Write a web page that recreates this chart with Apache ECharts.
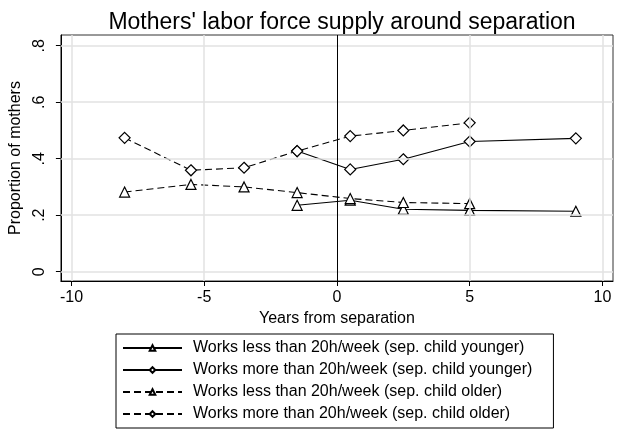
<!DOCTYPE html>
<html>
<head>
<meta charset="utf-8">
<script src="https://cdn.jsdelivr.net/npm/echarts@6/dist/echarts.min.js"></script>
<style>html,body{margin:0;padding:0;background:#fff;}#c{width:625px;height:434px;}</style>
</head>
<body>
<div id="c"></div>
<script>
var xOlder = [-8, -5.5, -3.5, -1.5, 0.5, 2.5, 5];
var xYounger = [-1.5, 0.5, 2.5, 5, 9];
var lessYounger = [0.235, 0.253, 0.221, 0.217, 0.214];
var moreYounger = [0.427, 0.362, 0.398, 0.461, 0.472];
var lessOlder = [0.282, 0.309, 0.300, 0.280, 0.259, 0.245, 0.241];
var moreOlder = [0.474, 0.359, 0.368, 0.427, 0.480, 0.500, 0.527];
var xTicks = [-10, -5, 0, 5, 10];
var yTicks = [0, 0.2, 0.4, 0.6, 0.8];
var yTickLabels = ['0', '.2', '.4', '.6', '.8'];
var seriesNames = [
  'Works less than 20h/week (sep. child younger)',
  'Works more than 20h/week (sep. child younger)',
  'Works less than 20h/week (sep. child older)',
  'Works more than 20h/week (sep. child older)'
];

function pairs(xs, ys) { return xs.map(function (x, i) { return [x, ys[i]]; }); }

var FONT = 'Liberation Sans, Arial, sans-serif';
var chart = echarts.init(document.getElementById('c'), null, {renderer: 'canvas'});

function mk(name, xs, ys, sym, dashed, size) {
  return {
    name: name, type: 'line', data: pairs(xs, ys),
    symbol: sym, symbolSize: size, showSymbol: true,
    lineStyle: {color: '#000', width: 1.1, type: dashed ? [7, 4] : 'solid'},
    itemStyle: {color: '#fff', borderColor: '#000', borderWidth: 1.2},
    emphasis: {disabled: true}, z: 3
  };
}

var gridLinesX = xTicks.filter(function (v) { return v !== 0; }).map(function (v) { return {xAxis: v}; });
var gridLinesY = yTicks.map(function (v) { return {yAxis: v}; });

var series = [
  mk(seriesNames[0], xYounger, lessYounger, 'triangle', false, 10),
  mk(seriesNames[1], xYounger, moreYounger, 'diamond', false, 11),
  mk(seriesNames[2], xOlder, lessOlder, 'triangle', true, 10),
  mk(seriesNames[3], xOlder, moreOlder, 'diamond', true, 11),
  {
    type: 'line', data: [], silent: true, z: 1,
    markLine: {
      silent: true, symbol: 'none', label: {show: false}, animation: false,
      lineStyle: {color: '#e2e2e2', width: 1.5, type: 'solid'},
      data: gridLinesX.concat(gridLinesY)
    }
  },
  {
    type: 'line', data: [], silent: true, z: 2,
    markLine: {
      silent: true, symbol: 'none', label: {show: false}, animation: false,
      lineStyle: {color: '#000', width: 1, type: 'solid'},
      data: [{xAxis: 0}]
    }
  }
];

chart.setOption({
  animation: false,
  backgroundColor: '#fff',
  title: {
    text: "Mothers' labor force supply around separation",
    left: 337, top: 6, textAlign: 'center',
    textStyle: {fontFamily: FONT, fontSize: 23, fontWeight: 'normal', color: '#000'}
  },
  grid: {left: 58, right: 12, top: 35, bottom: 153, show: true, borderColor: '#333', borderWidth: 1},
  xAxis: {
    type: 'value', min: -10.4, max: 10.4,
    name: 'Years from separation', nameLocation: 'middle', nameGap: 26,
    nameTextStyle: {fontFamily: FONT, fontSize: 16, color: '#000'},
    axisLine: {show: true, onZero: false, lineStyle: {color: '#000', width: 1}},
    axisTick: {show: true, length: 5, customValues: xTicks, lineStyle: {color: '#000'}},
    axisLabel: {customValues: xTicks, fontFamily: FONT, fontSize: 16, color: '#000', margin: 9},
    splitLine: {show: false}
  },
  yAxis: {
    type: 'value', min: -0.033, max: 0.838,
    name: 'Proportion of mothers', nameLocation: 'middle', nameGap: 32,
    nameTextStyle: {fontFamily: FONT, fontSize: 16, color: '#000'},
    axisLine: {show: true, onZero: false, lineStyle: {color: '#000', width: 1}},
    axisTick: {show: true, length: 5, customValues: yTicks, lineStyle: {color: '#000'}},
    axisLabel: {
      customValues: yTicks, rotate: 90, fontFamily: FONT, fontSize: 16, color: '#000', margin: 13,
      formatter: function (v) {
        for (var i = 0; i < yTicks.length; i++) if (Math.abs(yTicks[i] - v) < 1e-9) return yTickLabels[i];
        return '';
      }
    },
    splitLine: {show: false}
  },
  legend: {
    data: seriesNames, orient: 'vertical', left: 116, top: 334,
    itemWidth: 59, itemHeight: 7, itemGap: 6,
    padding: [6, 21, 6, 6],
    borderColor: '#000', borderWidth: 1,
    textStyle: {fontFamily: FONT, fontSize: 16, color: '#000', padding: [0, 0, 0, 6]},
    selectedMode: false
  },
  series: series
});
</script>
</body>
</html>
